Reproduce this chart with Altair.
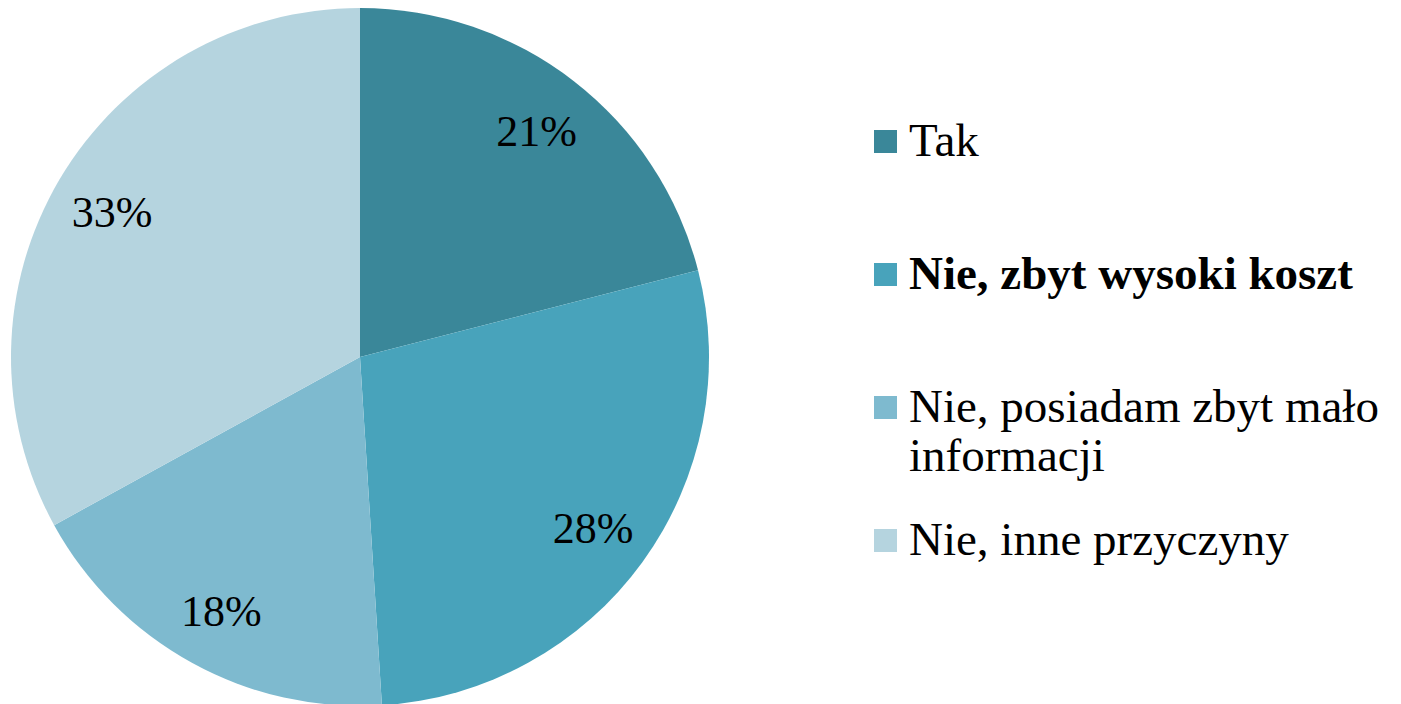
import altair as alt
import pandas as pd

categories = ["Tak", "Nie, zbyt wysoki koszt", "Nie, posiadam zbyt mało informacji", "Nie, inne przyczyny"]
values = [21, 28, 18, 33]
colors = ["#3A8799", "#48A3BB", "#7EBACF", "#B5D4DF"]

df = pd.DataFrame({
    "cat": categories,
    "val": values,
    "idx": list(range(len(categories))),
    "lbl": [f"{v}%" for v in values],
})

base = alt.Chart(df).encode(
    theta=alt.Theta("val:Q", stack=True),
    order=alt.Order("idx:Q"),
)

pie = base.mark_arc(radius=349, stroke=None).encode(
    color=alt.Color(
        "cat:N",
        scale=alt.Scale(domain=categories, range=colors),
        sort=categories,
        legend=alt.Legend(
            title=None,
            orient="none",
            legendX=854,
            legendY=110,
            symbolType="square",
            symbolSize=529,
            symbolStrokeWidth=0,
            labelFont="Liberation Serif",
            labelFontSize=47,
            labelColor="#000000",
            labelOffset=0,
            labelLimit=600,
            rowPadding=36,
            labelExpr="datum.label == 'Nie, posiadam zbyt mało informacji' ? ['Nie, posiadam zbyt mało', 'informacji'] : [datum.label, '']",
            labelFontWeight={"expr": "datum.label == 'Nie, zbyt wysoki koszt' ? 'bold' : 'normal'"},
        ),
    )
)

text = base.mark_text(
    radius=288, dy=4, font="Liberation Serif", fontSize=44, color="#000000"
).encode(text="lbl:N")

chart = (pie + text).properties(width=704, height=698, padding=0).configure_view(stroke=None)

chart.save("out.html", embed_options={"renderer": "svg", "actions": False})
